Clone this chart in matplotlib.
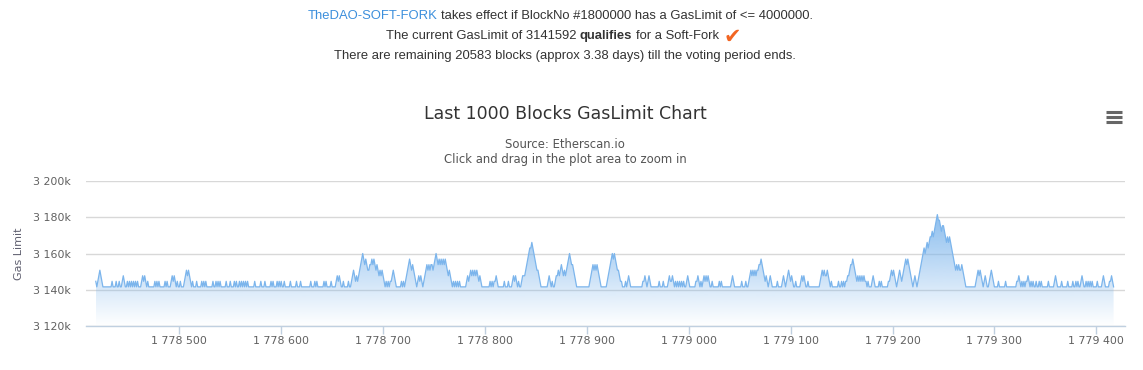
import numpy as np
from matplotlib import pyplot as plt
from matplotlib.lines import Line2D
from matplotlib.patches import Polygon

W, H = 1143, 370

first_block = 1778418
gas_floor = 3141592  # flat bottom of the series
gas_step = 3067  # one vote step, about 1/1024 of the limit

# gas limit per block, in steps above the floor, 100 blocks a row
levels_000 = [1,0,1,2,3,2,1,0,0,0, 0,0,0,0,0,0,1,0,0,0, 1,0,0,1,0,0,1,2,1,0, 0,1,0,1,0,1,0,1,0,1, 0,1,0,0,0,1,2,1,2,1,
              0,1,0,0,0,0,0,0,1,0, 1,0,1,0,0,0,0,0,1,0, 1,0,0,0,1,2,1,2,1,0, 1,0,0,1,0,0,0,1,2,3, 2,3,2,1,0,1,0,0,0,1]
levels_100 = [0,0,0,0,1,0,1,0,1,0, 0,0,0,0,0,1,0,0,1,0, 1,0,1,0,0,0,0,0,1,0, 0,0,1,0,0,0,1,0,1,0, 0,1,0,1,0,1,0,1,0,1,
              0,0,0,0,0,0,1,0,0,0, 0,0,1,0,0,0,1,0,0,0, 0,0,1,0,1,0,0,0,1,0, 1,0,1,0,0,1,0,0,0,0, 0,1,0,0,0,0,0,1,0,0]
levels_200 = [0,1,0,0,0,0,0,0,0,0, 0,1,0,0,0,1,0,1,0,0, 0,0,0,0,1,0,1,0,0,0, 0,1,0,0,0,0,1,2,1,2, 1,0,0,1,0,0,0,0,1,0,
              0,1,2,3,2,1,2,1,2,3, 4,5,6,5,4,5,4,3,3,4, 4,5,4,5,4,3,4,3,2,3, 2,3,2,1,0,1,0,1,0,1, 1,2,3,2,1,0,0,0,0,0]
levels_300 = [1,0,1,0,1,2,3,4,5,4, 3,4,3,2,1,0,1,2,1,2, 1,0,1,2,3,4,3,4,3,4, 4,3,4,5,6,5,4,5,4,5, 4,5,4,5,4,3,2,3,2,1,
              0,1,0,1,0,1,0,1,0,0, 0,0,0,0,1,2,1,2,3,2, 3,2,3,2,3,2,1,2,1,0, 0,0,0,0,0,0,0,1,0,1, 0,1,1,2,1,0,0,0,0,0]
levels_400 = [0,1,0,0,0,1,0,0,0,1, 2,1,2,1,0,1,0,0,1,2, 2,2,3,4,5,6,7,7,8,7, 6,5,4,3,3,2,1,0,0,0, 0,0,0,0,1,2,1,0,1,0,
              0,1,2,2,3,2,3,4,3,2, 3,2,3,4,5,6,5,4,4,3, 2,1,0,0,0,0,0,0,0,0, 0,0,0,0,0,1,2,3,4,3, 4,3,4,3,2,1,0,0,0,0]
levels_500 = [0,0,1,2,3,4,5,6,5,6, 5,4,3,3,2,1,1,0,0,0, 1,0,1,2,1,0,0,0,0,0, 0,0,0,0,0,0,0,1,1,2, 1,0,1,2,1,0,0,0,0,0,
              0,0,0,1,0,0,0,1,0,0, 0,0,1,2,1,1,2,1,0,1, 0,1,0,1,0,1,0,1,0,0, 1,2,1,0,0,0,0,0,0,1, 1,2,1,0,1,0,1,2,1,2]
levels_600 = [1,2,1,0,0,1,0,0,0,0, 0,0,1,0,1,0,0,0,0,0, 0,0,0,0,1,2,1,0,0,0, 0,0,0,0,1,0,0,0,1,0, 0,1,2,3,2,3,2,3,2,3,
              3,4,4,5,4,3,2,1,2,1, 0,1,2,1,0,0,0,0,0,1, 0,0,0,0,1,2,1,0,1,2, 3,2,1,2,1,0,0,1,0,0, 0,0,1,2,1,2,1,0,0,1]
levels_700 = [0,0,0,0,0,0,0,0,0,0, 0,1,2,3,2,3,2,2,3,2, 1,0,1,0,0,0,0,0,0,1, 0,0,1,0,1,0,1,1,2,2, 3,4,4,5,4,3,2,1,2,1,
              2,1,2,1,2,1,1,0,1,0, 0,0,1,2,1,0,0,0,0,1, 0,1,0,0,0,0,0,0,1,1, 2,3,2,3,2,1,0,1,2,3, 2,1,2,3,4,5,4,5,4,3]
levels_800 = [2,1,0,1,2,1,0,1,2,3, 4,5,6,7,6,7,8,7,8,9, 9,10,9,10,11,12,13,12,12,11, 10,11,11,10,9,8,9,8,9,8, 7,6,5,4,3,4,3,4,3,3,
              4,3,2,1,0,0,0,0,0,0, 0,0,0,0,1,2,3,2,3,2, 1,0,1,2,1,0,0,1,2,3, 2,1,0,0,0,0,1,0,0,0, 0,0,0,1,0,0,0,0,0,0]
levels_900 = [0,0,0,0,1,1,2,1,0,1, 0,1,0,1,1,2,1,0,1,0, 1,0,0,1,0,0,1,0,1,0, 0,0,0,0,0,1,0,0,0,0, 0,1,2,1,0,0,0,0,1,0,
              0,0,0,0,1,0,0,0,0,1, 0,0,1,0,1,0,0,1,2,1, 0,0,1,0,1,0,1,0,1,0, 0,0,0,1,0,0,0,0,1,2, 1,0,0,0,0,1,1,2,1,0]

y_ticks = [3120000, 3140000, 3160000, 3180000, 3200000]
x_ticks = [1778500, 1778600, 1778700, 1778800, 1778900, 1779000, 1779100, 1779200, 1779300, 1779400]

levels = np.array(levels_000 + levels_100 + levels_200 + levels_300 + levels_400
                  + levels_500 + levels_600 + levels_700 + levels_800 + levels_900)
blocks = first_block + np.arange(len(levels))
gas = gas_floor + levels * gas_step


def spaced(n):
    return f'{n:,}'.replace(',', ' ')


fig = plt.figure(figsize=(W / 100, H / 100), dpi=100)
ax = fig.add_axes([86 / W, (H - 326) / H, 1039 / W, 145 / H])
ax.set_xlim(1778408.4, 1779428.2)
ax.set_ylim(3120000, 3200000)

for s in ['top', 'left', 'right']:
    ax.spines[s].set_visible(False)
ax.spines['bottom'].set_color('#c0d0e0')
ax.spines['bottom'].set_linewidth(1)
ax.grid(axis='y', color='#d8d8d8', linewidth=1)
ax.set_axisbelow(True)

ax.set_yticks(y_ticks)
ax.set_yticklabels([spaced(v // 1000) + 'k' for v in y_ticks])
ax.set_xticks(x_ticks)
ax.set_xticklabels([spaced(v) for v in x_ticks])
ax.tick_params(axis='y', length=0, pad=10.8, labelsize=7.9, labelcolor='#606060')
ax.tick_params(axis='x', length=6, width=1, color='#c0d0e0', pad=1.2, labelsize=7.9, labelcolor='#606060')
ax.set_ylabel('Gas Limit', fontsize=8, color='#606070')
ax.yaxis.set_label_coords((24 - 86) / 1039, 0.5)

# area fades from the series blue at the peak to nothing on the axis
grad = np.zeros((256, 1, 4))
grad[:, 0, :3] = np.array([0x7c, 0xb5, 0xec]) / 255
grad[:, 0, 3] = np.linspace(0.88, 0, 256)
top = gas.max()
im = ax.imshow(grad, aspect='auto', origin='upper', zorder=2,
               extent=[blocks[0], blocks[-1], 3120000, top])
ax.set_xlim(1778408.4, 1779428.2)
ax.set_ylim(3120000, 3200000)
verts = list(zip(blocks, gas)) + [(blocks[-1], 3120000), (blocks[0], 3120000)]
clip = Polygon(verts, transform=ax.transData, facecolor='none', edgecolor='none')
ax.add_patch(clip)
im.set_clip_path(clip)
ax.plot(blocks, gas, color='#7cb5ec', linewidth=0.9, zorder=3)

fig.text(565 / W, 1 - 114 / H, 'Last 1000 Blocks GasLimit Chart', ha='center', va='center',
         fontsize=12.55, color='#333333')
fig.text(565 / W, 1 - 144 / H, 'Source: Etherscan.io', ha='center', va='center', fontsize=8.35, color='#555555')
fig.text(565 / W, 1 - 159 / H, 'Click and drag in the plot area to zoom in', ha='center', va='center',
         fontsize=8.35, color='#555555')


def run_text(x, y, parts):
    # html line with mixed styles, pieces placed one after the other
    rend = fig.canvas.get_renderer()
    for s, color, weight in parts:
        t = fig.text(x / W, 1 - y / H, s, ha='left', va='center', fontsize=9.4,
                     family='Liberation Sans', color=color, fontweight=weight)
        x = t.get_window_extent(rend).x1 + 3.4


dark = '#333333'
run_text(308, 16, [('TheDAO-SOFT-FORK', '#3c8fdc', 'normal'),
                   ('takes effect if BlockNo #1800000 has a GasLimit of <= 4000000.', dark, 'normal')])
run_text(386, 36, [('The current GasLimit of 3141592', dark, 'normal'),
                   ('qualifies', dark, 'bold'),
                   ('for a Soft-Fork', dark, 'normal')])
run_text(334, 56, [('There are remaining 20583 blocks (approx 3.38 days) till the voting period ends.', dark, 'normal')])
fig.text(732 / W, 1 - 37 / H, '\u2714', ha='center', va='center', fontsize=15, color='#f26522',
         family='DejaVu Sans')

# export menu icon
for y in [112, 117, 122]:
    fig.add_artist(Line2D([1106 / W, 1122 / W], [1 - y / H, 1 - y / H], color='#666666', linewidth=2.2,
                          solid_capstyle='butt'))

plt.savefig('out.png', dpi=100)
